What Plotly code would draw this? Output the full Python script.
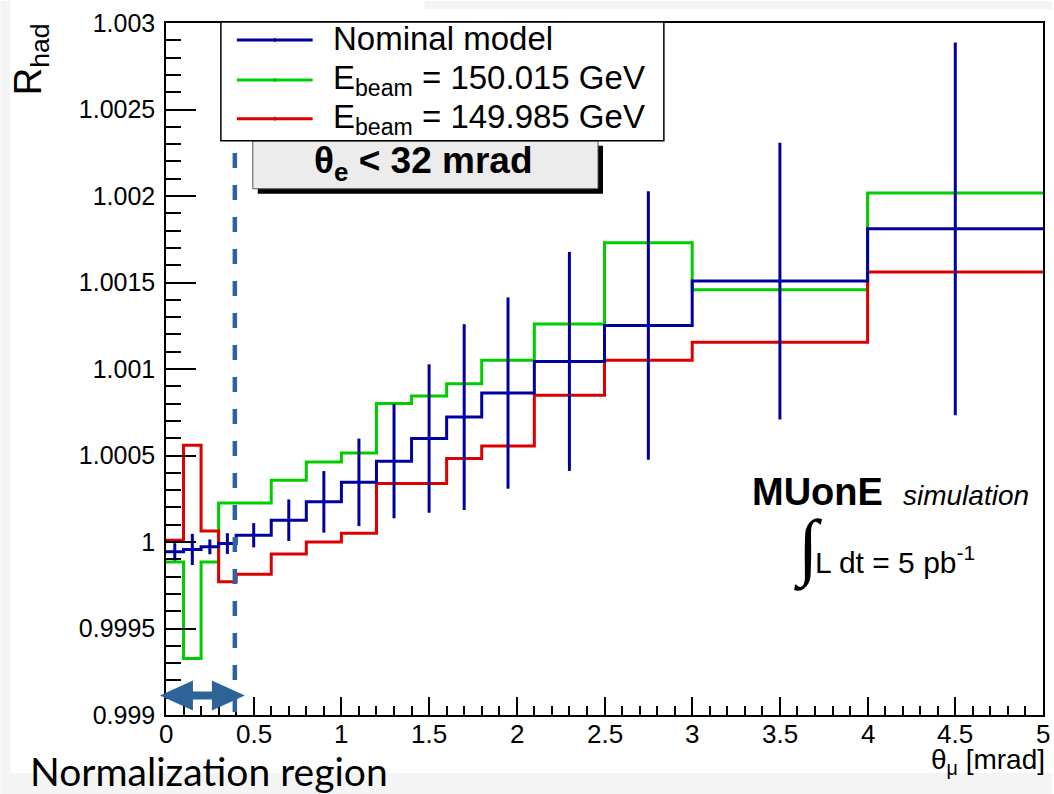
import plotly.graph_objects as go

# Bin edges of the theta_mu histogram [mrad] and bin centres
edges = [0, 0.1, 0.2, 0.3, 0.4, 0.6, 0.8, 1.0, 1.2, 1.4, 1.6, 1.8, 2.1, 2.5, 3.0, 4.0, 5.0]
centers = [0.05, 0.15, 0.25, 0.35, 0.5, 0.7, 0.9, 1.1, 1.3, 1.5, 1.7, 1.95, 2.3, 2.75, 3.5, 4.5]

# R_had per bin
nominal = [0.999943, 0.999957, 0.999972, 0.999991, 1.000039, 1.000126, 1.000232, 1.000345,
           1.000467, 1.000598, 1.000722, 1.000861, 1.001044, 1.001252, 1.001508, 1.001810]
nominal_err = [0.000050, 0.000090, 0.000043, 0.000060, 0.000070, 0.000120, 0.000178, 0.000253,
               0.000330, 0.000429, 0.000537, 0.000553, 0.000633, 0.000776, 0.000800, 0.001078]
ebeam_hi = [0.999885, 0.999327, 0.999885, 1.000226, 1.000226, 1.000357, 1.000462, 1.000514,
            1.000800, 1.000844, 1.000915, 1.001050, 1.001260, 1.001730, 1.001458, 1.002018]
ebeam_lo = [1.000010, 1.000559, 1.000064, 0.999770, 0.999814, 0.999930, 1.000000, 1.000050,
            1.000338, 1.000338, 1.000482, 1.000555, 1.000848, 1.001050, 1.001155, 1.001560]

# x-axis tick labels
x_ticks = [0, 0.5, 1, 1.5, 2, 2.5, 3, 3.5, 4, 4.5, 5]
x_tick_text = ["0", "0.5", "1", "1.5", "2", "2.5", "3", "3.5", "4", "4.5", "5"]

series_names = ["Nominal model", "E<sub>beam</sub> = 150.015 GeV", "E<sub>beam</sub> = 149.985 GeV"]
BLUE, GREEN, RED = "#00009e", "#00cc00", "#dd0000"
ARROW = "#2e6398"

W, H = 1054, 794
L, R, T, B = 166, 1045, 22, 715   # plot frame in pixels


def px(x):
    return (x - L) / (R - L)


def py(y):
    return (B - y) / (B - T)


def step_trace(vals, color):
    return go.Scatter(x=edges, y=vals + [vals[-1]], mode="lines", line_shape="hv",
                      line=dict(color=color, width=3), showlegend=False, hoverinfo="skip")


fig = go.Figure()
fig.add_trace(step_trace(ebeam_hi, GREEN))
fig.add_trace(step_trace(ebeam_lo, RED))
fig.add_trace(step_trace(nominal, BLUE))
fig.add_trace(go.Scatter(x=centers, y=nominal, mode="markers",
                         marker=dict(size=1, color=BLUE),
                         error_y=dict(type="data", array=nominal_err, width=0,
                                      thickness=3, color=BLUE),
                         showlegend=False))

SANS = "Liberation Sans, Arial, Helvetica, sans-serif"

shapes = []
# slide background strips
for x0, y0, x1, y1 in [(0, 0, 10, 773), (425, 0, W, 8), (0, 773, W, H)]:
    shapes.append(dict(type="rect", xref="paper", yref="paper", layer="below",
                       x0=px(x0), x1=px(x1), y0=py(y1), y1=py(y0),
                       fillcolor="#f4f4f4", line=dict(width=0)))

# normalization boundary and double arrow
shapes.append(dict(type="line", xref="paper", yref="paper",
                   x0=px(235), x1=px(235), y0=py(712), y1=py(145),
                   line=dict(color=ARROW, width=4.5, dash="15px,17px")))
ay, hh, sh = 695.5, 15, 4
pts = [(160, ay), (193, ay - hh), (193, ay - sh), (212, ay - sh), (212, ay - hh), (245, ay),
       (212, ay + hh), (212, ay + sh), (193, ay + sh), (193, ay + hh)]
path = "M " + " L ".join(f"{px(a):.5f},{py(b):.5f}" for a, b in pts) + " Z"
shapes.append(dict(type="path", xref="paper", yref="paper", path=path,
                   fillcolor=ARROW, line=dict(width=0)))

# cut box with shadow
shapes.append(dict(type="rect", xref="paper", yref="paper",
                   x0=px(258), x1=px(604), y0=py(193), y1=py(145),
                   fillcolor="#000000", line=dict(width=0)))
shapes.append(dict(type="rect", xref="paper", yref="paper",
                   x0=px(253), x1=px(599), y0=py(188), y1=py(140),
                   fillcolor="#ececec", line=dict(color="#555555", width=1)))

# legend box
shapes.append(dict(type="rect", xref="paper", yref="paper",
                   x0=px(221), x1=px(665), y0=py(140), y1=py(21),
                   fillcolor="white", line=dict(color="black", width=1.5)))
legend_rows = [39, 79, 118]
for yy, col in zip(legend_rows, [BLUE, GREEN, RED]):
    shapes.append(dict(type="line", xref="paper", yref="paper",
                       x0=px(237), x1=px(313), y0=py(yy), y1=py(yy),
                       line=dict(color=col, width=3)))
    shapes.append(dict(type="line", xref="paper", yref="paper",
                       x0=px(275), x1=px(275), y0=py(yy + 2), y1=py(yy - 2),
                       line=dict(color=col, width=1.5)))

annotations = []


def label(text, x, y, size, family=SANS, xanchor="left", yanchor="middle", angle=0):
    annotations.append(dict(text=text, xref="paper", yref="paper", x=px(x), y=py(y),
                            xanchor=xanchor, yanchor=yanchor, showarrow=False,
                            textangle=angle, font=dict(family=family, size=size, color="black")))


for yy, name in zip([38, 79, 118], series_names):
    label(name, 331, yy, 33)

# x tick labels placed on the axis scale, sitting close under the frame
for xv, txt in zip(x_ticks, x_tick_text):
    annotations.append(dict(text=txt, xref="x", yref="paper", x=xv, y=py(734),
                            xanchor="center", yanchor="middle", showarrow=False,
                            font=dict(family=SANS, size=26, color="black")))

label("<b>θ<sub>e</sub> &lt; 32 mrad</b>", 424, 162, 37, xanchor="center")
label("<b>MUonE</b>", 751, 492, 38)
label("<i>simulation</i>", 903, 495, 28)
label("∫", 810, 548, 74, family="Liberation Serif, serif", xanchor="center")
label("L dt = 5 pb<sup>-1</sup>", 814, 560, 30)
label("R<sub>had</sub>", 31, 58, 38, angle=-90, xanchor="center")
label("θ<sub>μ</sub> [mrad]", 1049, 762, 28, xanchor="right")
label("Normalization region", 28, 771, 39, family="Lato, sans-serif")

fig.update_layout(
    width=W, height=H,
    margin=dict(l=L, r=W - R, t=T, b=H - B, pad=0),
    paper_bgcolor="white", plot_bgcolor="white",
    shapes=shapes, annotations=annotations,
    showlegend=False,
    xaxis=dict(range=[0, 5], dtick=0.5, tick0=0, showticklabels=False,
               ticks="inside", ticklen=18, tickwidth=1.5, tickcolor="black",
               minor=dict(dtick=0.1, ticks="inside", ticklen=9, tickwidth=1.5, tickcolor="black"),
               showline=True, linecolor="black", linewidth=1.5, mirror=True,
               showgrid=False, zeroline=False),
    yaxis=dict(range=[0.999, 1.003], dtick=0.0005, tick0=0.999, tickformat=".4~f",
               ticks="inside", ticklen=30, tickwidth=1.5, tickcolor="black",
               minor=dict(dtick=0.0001, ticks="inside", ticklen=15, tickwidth=1.5, tickcolor="black"),
               showline=True, linecolor="black", linewidth=1.5, mirror=True,
               showgrid=False, zeroline=False, ticklabelstandoff=4,
               tickfont=dict(family=SANS, size=25, color="black")),
)

fig.write_html("out.html")
